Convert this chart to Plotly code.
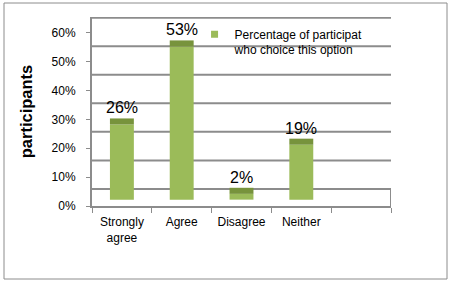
import plotly.graph_objects as go

categories = ["Strongly<br>agree", "Agree", "Disagree", "Neither"]
values = [26, 53, 2, 19]
tick_values = [0, 10, 20, 30, 40, 50, 60]
tick_labels = ["0%", "10%", "20%", "30%", "40%", "50%", "60%"]
series_name = "Percentage of participat<br>who choice this option"

FONT = "Liberation Sans"
LIGHT = "#9BBB59"
DARK = "#77933C"
GRID = "#8C8C8C"

BASE = 2.2          # 3D floor lift of bars
BAND = 2.1          # thickness of top face
WALL_OFFSET = 5.9   # back wall shift
WALL_SCALE = 0.988

W, H = 451, 284
ML, MR, MT, MB = 92, 60, 17, 78

fig = go.Figure()
fig.add_trace(go.Bar(x=categories, y=values, base=[BASE] * len(values),
                     width=0.4, marker=dict(color=LIGHT, line=dict(width=0)),
                     showlegend=False, hoverinfo="skip"))
fig.add_trace(go.Bar(x=categories, y=[BAND] * len(values),
                     base=[BASE + v for v in values],
                     width=0.4, marker=dict(color=DARK, line=dict(width=0)),
                     showlegend=False, hoverinfo="skip"))
fig.add_trace(go.Scatter(x=[None], y=[None], mode="markers", name=series_name,
                         marker=dict(symbol="square", size=7, color=LIGHT)))

shapes = []
for t in tick_values:
    yv = WALL_OFFSET + t * WALL_SCALE
    shapes.append(dict(type="line", xref="x", yref="y", x0=-0.5, x1=4.5,
                       y0=yv, y1=yv, line=dict(color=GRID, width=2), layer="below"))
shapes.append(dict(type="line", xref="x", yref="y", x0=4.5, x1=4.5,
                   y0=0, y1=WALL_OFFSET, line=dict(color=GRID, width=2), layer="below"))
pw = W - ML - MR
ph = H - MT - MB
shapes.append(dict(type="rect", xref="paper", yref="paper",
                   x0=(4 - ML) / pw, x1=(447 - ML) / pw,
                   y0=(H - MB - 279) / ph, y1=(H - MB - 3) / ph,
                   line=dict(color="#8C8C8C", width=1), layer="below"))

annotations = []
for c, v in zip(categories, values):
    annotations.append(dict(x=c, y=BASE + v + BAND, text=f"{v}%", showarrow=False,
                            yanchor="bottom", yshift=0,
                            font=dict(family=FONT, size=16, color="black")))

fig.update_layout(
    width=W, height=H,
    margin=dict(l=ML, r=MR, t=MT, b=MB),
    paper_bgcolor="white", plot_bgcolor="white",
    barmode="overlay",
    font=dict(family=FONT, size=12, color="black"),
    shapes=shapes, annotations=annotations,
    legend=dict(x=0.343, y=0.985, xanchor="left", yanchor="top",
                bgcolor="rgba(0,0,0,0)", valign="top",
                font=dict(family=FONT, size=12, color="black"),
                itemwidth=30),
    xaxis=dict(categoryorder="array", categoryarray=categories + [" "],
               range=[-0.5, 4.5], showline=True, linecolor=GRID, linewidth=2,
               ticks="outside", tickson="boundaries", ticklen=5, tickcolor=GRID,
               ticklabelstandoff=4,
               showgrid=False, zeroline=False, fixedrange=True),
    yaxis=dict(range=[0, 65.4], tickvals=tick_values, ticktext=tick_labels,
               showline=True, linecolor=GRID, linewidth=2,
               ticks="outside", ticklen=4, tickcolor=GRID, ticklabelstandoff=8,
               showgrid=False, zeroline=False, fixedrange=True,
               title=dict(text="<b>participants</b>", standoff=15,
                          font=dict(family=FONT, size=16.5, color="black"))),
)

fig.write_html("out.html", config={"displayModeBar": False},
               post_script="document.body.style.margin='0';")
